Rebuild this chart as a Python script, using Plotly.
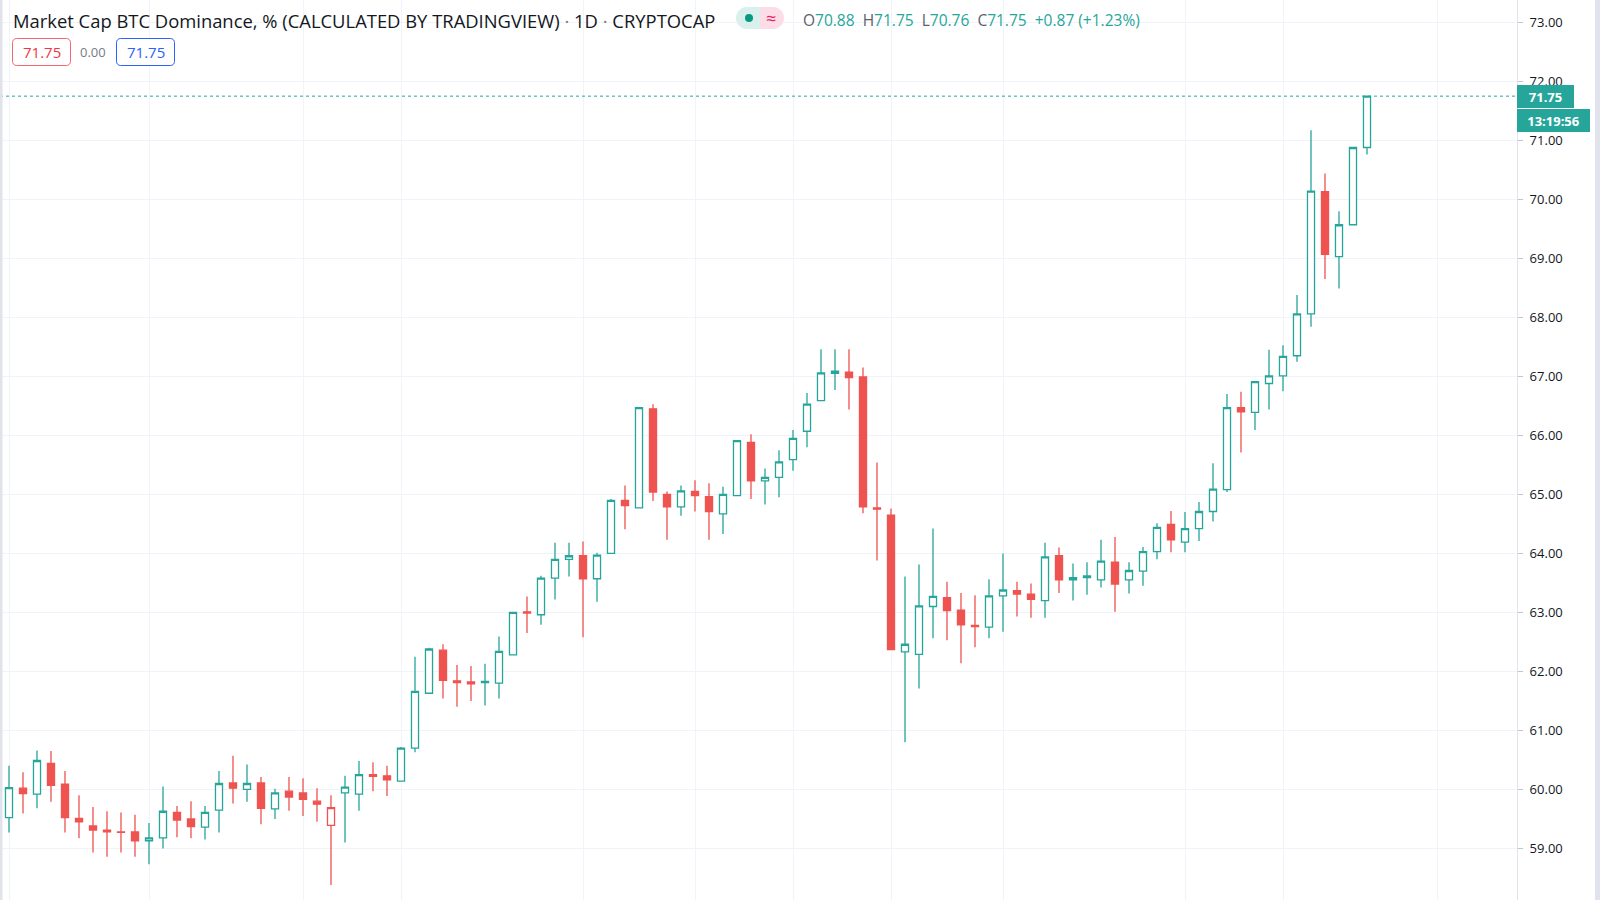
import plotly.graph_objects as go

# ---------------- data ----------------
opens = [59.52, 60.02, 59.92, 60.44, 60.09, 59.51, 59.38, 59.31, 59.28, 59.28,
         59.13, 59.18, 59.61, 59.50, 59.36, 59.65, 60.11, 60.00, 60.11, 59.67,
         59.97, 59.94, 59.80, 59.39, 59.94, 59.92, 60.25, 60.23, 60.14, 60.70,
         61.63, 62.36, 61.84, 61.82, 61.81, 61.80, 62.28, 63.01, 62.96, 63.58,
         63.90, 63.96, 63.57, 64.00, 64.90, 64.77, 66.45, 65.00, 64.79, 65.05,
         64.96, 64.67, 64.98, 65.88, 65.23, 65.29, 65.59, 66.07, 66.59, 67.05,
         67.07, 66.99, 64.77, 64.65, 62.33, 62.29, 63.10, 63.25, 63.04, 62.76,
         62.75, 63.28, 63.37, 63.31, 63.20, 63.96, 63.55, 63.59, 63.55, 63.85,
         63.55, 63.70, 64.03, 64.49, 64.19, 64.42, 64.71, 65.08, 66.47, 66.39,
         66.88, 67.01, 67.35, 68.06, 70.13, 69.03, 69.57, 70.88]
highs = [60.40, 60.29, 60.66, 60.65, 60.31, 59.90, 59.70, 59.63, 59.61, 59.57,
         59.43, 60.05, 59.72, 59.80, 59.72, 60.31, 60.57, 60.42, 60.21, 60.01,
         60.21, 60.19, 60.02, 59.90, 60.23, 60.48, 60.46, 60.40, 60.72, 62.25,
         62.40, 62.46, 62.11, 62.09, 62.13, 62.59, 63.00, 63.27, 63.62, 64.18,
         64.18, 64.20, 64.01, 64.92, 65.15, 66.47, 66.53, 65.05, 65.15, 65.24,
         65.19, 65.13, 65.92, 66.02, 65.44, 65.75, 66.09, 66.72, 67.46, 67.46,
         67.46, 67.15, 65.54, 64.76, 63.61, 63.81, 64.42, 63.52, 63.33, 63.29,
         63.56, 64.00, 63.52, 63.49, 64.18, 64.10, 63.83, 63.85, 64.23, 64.28,
         63.85, 64.11, 64.51, 64.72, 64.70, 64.87, 65.53, 66.70, 66.74, 66.91,
         67.45, 67.53, 68.38, 71.17, 70.44, 69.80, 70.88, 71.75]
lows = [59.27, 59.59, 59.68, 59.79, 59.27, 59.17, 58.93, 58.86, 58.93, 58.86,
        58.73, 59.00, 59.19, 59.17, 59.15, 59.27, 59.76, 59.79, 59.41, 59.50,
        59.64, 59.55, 59.45, 58.38, 59.10, 59.64, 59.97, 59.89, 60.13, 60.63,
        61.62, 61.54, 61.40, 61.50, 61.42, 61.54, 62.27, 62.65, 62.79, 63.22,
        63.61, 62.58, 63.18, 64.00, 64.41, 64.77, 64.89, 64.23, 64.64, 64.71,
        64.23, 64.33, 64.97, 64.92, 64.83, 64.95, 65.40, 65.80, 66.59, 66.77,
        66.44, 64.68, 63.88, 62.37, 60.80, 61.71, 62.56, 62.53, 62.14, 62.41,
        62.56, 62.67, 62.93, 62.91, 62.91, 63.33, 63.20, 63.30, 63.42, 63.01,
        63.32, 63.45, 63.90, 64.02, 64.02, 64.21, 64.54, 65.04, 65.71, 66.09,
        66.44, 66.75, 67.25, 67.84, 68.65, 68.49, 69.57, 70.76]
closes = [60.03, 59.93, 60.49, 60.07, 59.52, 59.45, 59.31, 59.28, 59.27, 59.13,
          59.18, 59.63, 59.48, 59.37, 59.61, 60.10, 60.02, 60.10, 59.68, 59.94,
          59.87, 59.83, 59.75, 59.69, 60.04, 60.25, 60.22, 60.16, 60.70, 61.66,
          62.38, 61.85, 61.81, 61.79, 61.83, 62.34, 63.00, 62.99, 63.58, 63.90,
          63.96, 63.57, 63.97, 64.90, 64.81, 66.47, 65.04, 64.79, 65.06, 64.98,
          64.71, 65.00, 65.91, 65.23, 65.29, 65.55, 65.95, 66.53, 67.06, 67.09,
          66.98, 64.79, 64.75, 62.37, 62.46, 63.11, 63.27, 63.03, 62.79, 62.78,
          63.28, 63.38, 63.31, 63.22, 63.94, 63.55, 63.59, 63.62, 63.87, 63.48,
          63.71, 64.03, 64.44, 64.23, 64.42, 64.71, 65.09, 66.47, 66.40, 66.91,
          67.01, 67.34, 68.06, 70.14, 69.07, 69.57, 70.88, 71.75]
bars = list(range(len(opens)))                 # bar index on the time axis
time_grid = [0, 10, 21, 28, 41, 49, 56, 63, 71, 84, 91, 102]   # time-axis grid ticks
price_ticks = list(range(59, 74))              # 59.00 ... 73.00
symbol_title = "Market Cap BTC Dominance, % (CALCULATED BY TRADINGVIEW)"
interval = "1D"
exchange = "CRYPTOCAP"
countdown = "13:19:56"

# ---------------- style ----------------
W, H = 1600, 900
PW = 1517          # plot area width in px (price scale on the right)
GREEN = "#26a69a"
RED = "#ef5350"
GRID = "#f0f3fa"
FONT = "Open Sans"
LW = 1.3


def X(px):
    return px / PW


def Y(py):
    return 1 - py / H


n = len(closes)
up = [True] + [closes[i] >= closes[i - 1] for i in range(1, n)]

fig = go.Figure()
for flag, col in ((True, GREEN), (False, RED)):
    sel = [i for i in bars if up[i] == flag]
    fig.add_trace(go.Candlestick(
        x=sel,
        open=[opens[i] for i in sel], high=[highs[i] for i in sel],
        low=[lows[i] for i in sel], close=[closes[i] for i in sel],
        increasing=dict(line=dict(color=col, width=LW), fillcolor="white"),
        decreasing=dict(line=dict(color=col, width=LW), fillcolor=col),
        whiskerwidth=0, hoverinfo="skip", showlegend=False,
    ))

# rounded-rect path (px coords -> paper)
K = 0.5523


def rrect(x0, y0, x1, y1, rl, rr):
    def P(x, y):
        return f"{X(x):.6f},{Y(y):.6f}"
    p = f"M {P(x0 + rl, y0)} L {P(x1 - rr, y0)} "
    if rr:
        p += f"C {P(x1 - rr + K * rr, y0)} {P(x1, y0 + rr - K * rr)} {P(x1, y0 + rr)} "
    p += f"L {P(x1, y1 - rr)} "
    if rr:
        p += f"C {P(x1, y1 - rr + K * rr)} {P(x1 - rr + K * rr, y1)} {P(x1 - rr, y1)} "
    p += f"L {P(x0 + rl, y1)} "
    if rl:
        p += f"C {P(x0 + rl - K * rl, y1)} {P(x0, y1 - rl + K * rl)} {P(x0, y1 - rl)} "
    p += f"L {P(x0, y0 + rl)} "
    if rl:
        p += f"C {P(x0, y0 + rl - K * rl)} {P(x0 + rl - K * rl, y0)} {P(x0 + rl, y0)} "
    return p + "Z"


shapes = [
    # last price dotted line
    dict(type="line", xref="paper", x0=0, x1=1, yref="y", y0=closes[-1], y1=closes[-1],
         line=dict(color=GREEN, width=1, dash="dot"), layer="above"),
    # window edges
    dict(type="rect", xref="paper", yref="paper", x0=0, x1=X(2.5), y0=0, y1=1,
         fillcolor="#e0e3eb", line=dict(width=0), layer="above"),
    dict(type="rect", xref="paper", yref="paper", x0=X(1595), x1=X(1600), y0=0, y1=1,
         fillcolor="#e0e3eb", line=dict(width=0), layer="above"),
    # bid / ask boxes
    dict(type="path", xref="paper", yref="paper", path=rrect(12.5, 38.5, 70.5, 65.5, 4, 4),
         fillcolor="white", line=dict(color="#f7646f", width=1), layer="above"),
    dict(type="path", xref="paper", yref="paper", path=rrect(116.5, 38.5, 174.5, 65.5, 4, 4),
         fillcolor="white", line=dict(color="#2962ff", width=1), layer="above"),
    # status pill
    dict(type="path", xref="paper", yref="paper", path=rrect(736, 7, 760, 29, 11, 0),
         fillcolor="#daf0ec", line=dict(width=0), layer="above"),
    dict(type="path", xref="paper", yref="paper", path=rrect(760, 7, 784, 29, 0, 11),
         fillcolor="#fcdde7", line=dict(width=0), layer="above"),
    dict(type="circle", xref="paper", yref="paper", x0=X(745), x1=X(753), y0=Y(22), y1=Y(14),
         fillcolor="#089981", line=dict(width=0), layer="above"),
]

chg = closes[-1] - closes[-2]
pct = chg / closes[-2] * 100
G = "#787b86"


def ohlc_item(lbl, val):
    return f"<span style='color:#5d606b'>{lbl}</span><span style='color:{GREEN}'>{val}</span>"


ohlc_text = "&nbsp; ".join([
    ohlc_item("O", f"{opens[-1]:.2f}"), ohlc_item("H", f"{highs[-1]:.2f}"),
    ohlc_item("L", f"{lows[-1]:.2f}"), ohlc_item("C", f"{closes[-1]:.2f}"),
    f"<span style='color:{GREEN}'>{chg:+.2f} ({pct:+.2f}%)</span>",
])

annotations = [
    dict(xref="paper", yref="paper", x=X(11), y=Y(20), xanchor="left", yanchor="middle",
         text=f"{symbol_title} <span style='color:{G}'>·</span> {interval} "
              f"<span style='color:{G}'>·</span> {exchange}",
         font=dict(size=18.4, color="#131722", family=FONT), showarrow=False),
    dict(xref="paper", yref="paper", x=X(770.5), y=Y(18), xanchor="center", yanchor="middle",
         text="≈", font=dict(size=18, color="#e91e63", family=FONT), showarrow=False),
    dict(xref="paper", yref="paper", x=X(801), y=Y(20), xanchor="left", yanchor="middle",
         text=ohlc_text, font=dict(size=15.5, family=FONT), showarrow=False),
    dict(xref="paper", yref="paper", x=X(41.5), y=Y(52), xanchor="center", yanchor="middle",
         text=f"{closes[-1]:.2f}", font=dict(size=15, color="#f23645", family=FONT), showarrow=False),
    dict(xref="paper", yref="paper", x=X(93), y=Y(52), xanchor="center", yanchor="middle",
         text=f"{0:.2f}", font=dict(size=13, color=G, family=FONT), showarrow=False),
    dict(xref="paper", yref="paper", x=X(145.5), y=Y(52), xanchor="center", yanchor="middle",
         text=f"{closes[-1]:.2f}", font=dict(size=15, color="#2962ff", family=FONT), showarrow=False),
    # price scale labels
    dict(xref="paper", yref="y", x=1, y=closes[-1], xanchor="left", yanchor="middle",
         text=f"<b>{closes[-1]:.2f}</b>", bgcolor=GREEN, width=57, height=23,
         borderpad=0, borderwidth=0, align="center",
         font=dict(size=13, color="white", family=FONT), showarrow=False),
    dict(xref="paper", yref="y", x=1, y=closes[-1], yshift=-24, xanchor="left", yanchor="middle",
         text=f"<b>{countdown}</b>", bgcolor=GREEN, width=73, height=23,
         borderpad=0, borderwidth=0, align="center",
         font=dict(size=13, color="white", family=FONT), showarrow=False),
]

fig.update_layout(
    width=W, height=H,
    margin=dict(l=0, r=W - PW, t=0, b=0, pad=0),
    paper_bgcolor="white", plot_bgcolor="white",
    showlegend=False, boxgap=0.28,
    font=dict(family=FONT, color="#131722"),
    shapes=shapes, annotations=annotations,
    xaxis=dict(range=[-9 / 14, (PW - 9) / 14], tickvals=time_grid, showticklabels=False,
               showgrid=True, gridcolor=GRID, gridwidth=1, zeroline=False, ticks="",
               rangeslider=dict(visible=False), fixedrange=True),
    yaxis=dict(side="right", range=[73 - (H - 22.4) / 59, 73 + 22.4 / 59],
               tickvals=price_ticks, tickformat=".2f", showgrid=True, gridcolor=GRID,
               gridwidth=1, zeroline=False, showline=True, linecolor="#e0e3eb", linewidth=1,
               ticks="outside", ticklen=5, tickcolor="#c3c5cc", ticklabelstandoff=4,
               tickfont=dict(size=13, color="#131722", family=FONT), fixedrange=True),
)

fig.write_html("out.html")
